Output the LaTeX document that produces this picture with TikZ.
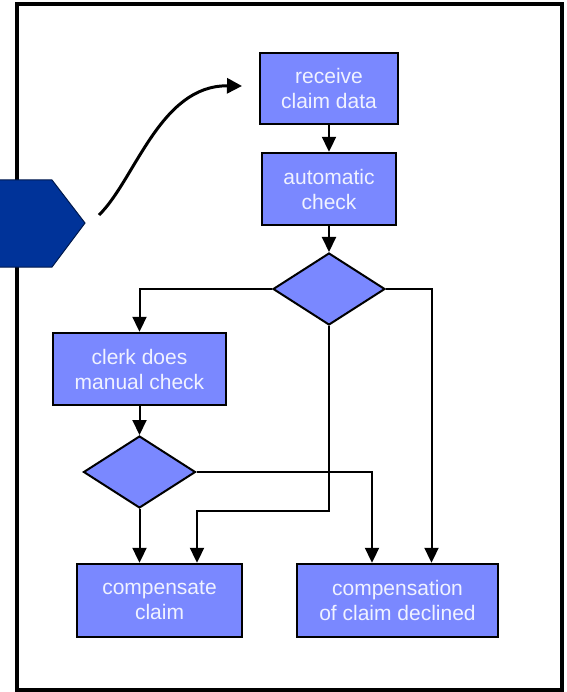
\documentclass[tikz,border=0pt]{standalone}
\usepackage{fontspec}
\setmainfont{Liberation Sans}
\usetikzlibrary{arrows.meta,shapes.geometric}
\definecolor{boxfill}{RGB}{122,136,255}
\definecolor{chevronblue}{RGB}{0,51,153}
\definecolor{labeltext}{RGB}{240,242,255}
\begin{document}
\begin{tikzpicture}[x=1pt,y=-1pt,
  stepbox/.style={draw=black, line width=2.4pt, fill=boxfill, text=labeltext,
    align=center, font=\fontsize{21}{25}\selectfont, inner sep=0pt},
  decision/.style={diamond, draw=black, line width=2pt, fill=boxfill,
    inner sep=0pt, minimum width=112pt, minimum height=72pt, aspect=1.556},
  flow/.style={line width=2pt, -{Triangle[width=14pt,length=15pt]}}
]
\useasboundingbox (0,0) rectangle (566,692);

% outer frame
\draw[line width=3.6pt, draw=black] (17,4) rectangle (562,690);

% incoming chevron on the left edge
\filldraw[fill=chevronblue, draw=black!50!chevronblue, line width=1pt]
  (-3,180) -- (52,180) -- (85,223) -- (52,267) -- (-3,267) -- cycle;

% process steps
\node[stepbox, minimum width=138pt, minimum height=71pt] (recv) at (329,88.5) {receive\\claim data};
\node[stepbox, minimum width=134pt, minimum height=72pt] (auto) at (329,189) {automatic\\check};
\node[decision] (d1) at (329,289) {};
\node[stepbox, minimum width=173pt, minimum height=72pt] (clerk) at (139.5,369) {clerk does\\manual check};
\node[decision] (d2) at (139.5,472) {};
\node[stepbox, minimum width=165pt, minimum height=73pt] (comp) at (159.5,600.5) {compensate\\claim};
\node[stepbox, minimum width=201pt, minimum height=73pt] (decl) at (397.5,600.5) {compensation\\of claim declined};

% entry curve
\coordinate (src) at (99,215);
\coordinate (dst) at (242,86);
\draw[line width=3pt, -{Triangle[width=15pt,length=15pt]}]
  (src) .. controls (135,180) and (160,85) .. (dst);

% connectors
\draw[flow] (recv.south) -- (auto.north);
\draw[flow] (auto.south) -- (d1.north);
\draw[flow] (d1.west) -| (clerk.north);
\draw[flow] (d1.east) -| ([xshift=34pt]decl.north);
\coordinate (jog) at (329,511);
\draw[flow] (d1.south) -- (d1.south |- jog) -| ([xshift=37.5pt]comp.north);
\draw[flow] (clerk.south) -- (d2.north);
\draw[flow] (d2.south) -- (d2.south |- comp.north);
\draw[flow] (d2.east) -| ([xshift=-25.5pt]decl.north);
\end{tikzpicture}
\end{document}
